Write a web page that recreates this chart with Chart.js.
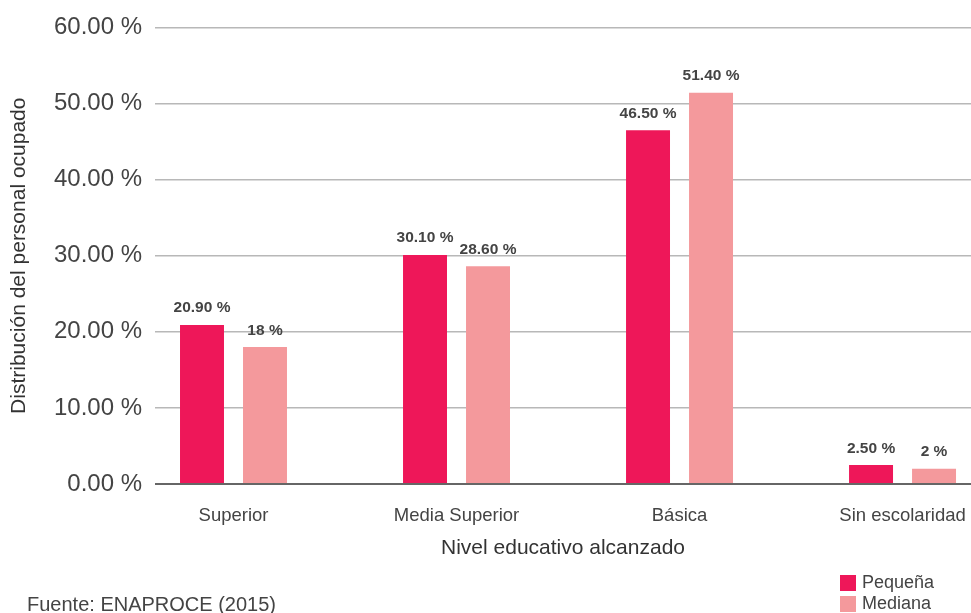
<!DOCTYPE html>
<html>
<head>
<meta charset="utf-8">
<script src="https://cdn.jsdelivr.net/npm/chart.js@4/dist/chart.umd.min.js"></script>
<style>
    html, body { margin: 0; padding: 0; background: #fff; }
    #wrap { width: 971px; height: 613px; position: relative; }
</style>
</head>
<body>
<div id="wrap"><canvas id="nivelChart"></canvas></div>
<script>
// Chart data
const categories = ['Superior', 'Media Superior', 'Básica', 'Sin escolaridad'];
const pequena = [20.9, 30.1, 46.5, 2.5];
const mediana = [18, 28.6, 51.4, 2];
const yTicks = [0, 10, 20, 30, 40, 50, 60];
const seriesNames = ['Pequeña', 'Mediana'];
const sourceText = 'Fuente: ENAPROCE (2015)';

const FONT = '"Liberation Sans", Arial, Helvetica, sans-serif';
const TEXT = '#444';

function fmtPct(v) {
    return Number.isInteger(v) ? v + ' %' : v.toFixed(2) + ' %';
}

// Labels on top of bars
const valueLabels = {
    id: 'valueLabels',
    afterDatasetsDraw(chart) {
        const ctx = chart.ctx;
        ctx.save();
        ctx.font = 'bold 15.5px ' + FONT;
        ctx.fillStyle = TEXT;
        ctx.textAlign = 'center';
        ctx.textBaseline = 'bottom';
        chart.data.datasets.forEach((ds, i) => {
            chart.getDatasetMeta(i).data.forEach((bar, j) => {
                ctx.fillText(fmtPct(ds.data[j].y), bar.x, bar.y - 9);
            });
        });
        ctx.restore();
    }
};

// Legend bottom right + source note bottom left
const extras = {
    id: 'extras',
    afterDraw(chart) {
        const ctx = chart.ctx;
        ctx.save();
        ctx.font = '18px ' + FONT;
        ctx.textBaseline = 'middle';
        chart.data.datasets.forEach((ds, i) => {
            const y = 575 + i * 21;
            ctx.fillStyle = ds.backgroundColor;
            ctx.fillRect(840, y, 16, 16);
            ctx.fillStyle = TEXT;
            ctx.fillText(ds.label, 862, y + 8);
        });
        ctx.font = '20px ' + FONT;
        ctx.fillStyle = TEXT;
        ctx.textBaseline = 'alphabetic';
        ctx.fillText(sourceText, 27, 611);
        ctx.restore();
    }
};

const ctx = document.getElementById('nivelChart').getContext('2d');
const nivelChart = new Chart(ctx, {
    type: 'bar',
    data: {
        datasets: [{
            label: seriesNames[0],
            data: pequena.map((v, i) => ({ x: i, y: v })),
            backgroundColor: '#EE1759'
        }, {
            label: seriesNames[1],
            data: mediana.map((v, i) => ({ x: i, y: v })),
            backgroundColor: '#F4999C'
        }]
    },
    options: {
        responsive: true,
        maintainAspectRatio: false,
        animation: false,
        categoryPercentage: 0.565,
        barPercentage: 0.698,
        layout: { padding: { top: 24, right: 0, bottom: 0, left: 0 } },
        plugins: {
            legend: { display: false },
            tooltip: { enabled: false }
        },
        scales: {
            x: {
                type: 'linear',
                offset: false,
                min: -0.352,
                max: 3.307,
                grid: { display: false, offset: false },
                border: { display: false },
                ticks: {
                    stepSize: 1,
                    includeBounds: false,
                    autoSkip: false,
                    maxRotation: 0,
                    padding: 13,
                    color: TEXT,
                    font: { family: FONT, size: 18.5 },
                    callback: v => categories[v] || ''
                },
                title: {
                    display: true,
                    text: 'Nivel educativo alcanzado',
                    color: '#333',
                    font: { family: FONT, size: 21 },
                    padding: { top: 0, bottom: 52 }
                },
                afterFit: scale => {
                    scale.height = 129;
                    scale.paddingLeft = 0;
                    scale.paddingRight = 0;
                }
            },
            y: {
                min: 0,
                max: 60,
                grid: {
                    drawTicks: false,
                    color: c => c.tick.value === 0 ? '#666' : '#b8b8b8',
                    lineWidth: c => c.tick.value === 0 ? 2 : 1.5
                },
                border: { display: false },
                afterBuildTicks: scale => {
                    scale.ticks = yTicks.map(v => ({ value: v }));
                },
                ticks: {
                    padding: 13,
                    color: TEXT,
                    font: { family: FONT, size: 24 },
                    callback: v => v.toFixed(2) + ' %'
                },
                title: {
                    display: true,
                    text: 'Distribución del personal ocupado',
                    color: '#333',
                    font: { family: FONT, size: 21 },
                    padding: { top: 7, bottom: 0 }
                },
                afterFit: scale => { scale.width = 155; }
            }
        }
    },
    plugins: [valueLabels, extras]
});
</script>
</body>
</html>
